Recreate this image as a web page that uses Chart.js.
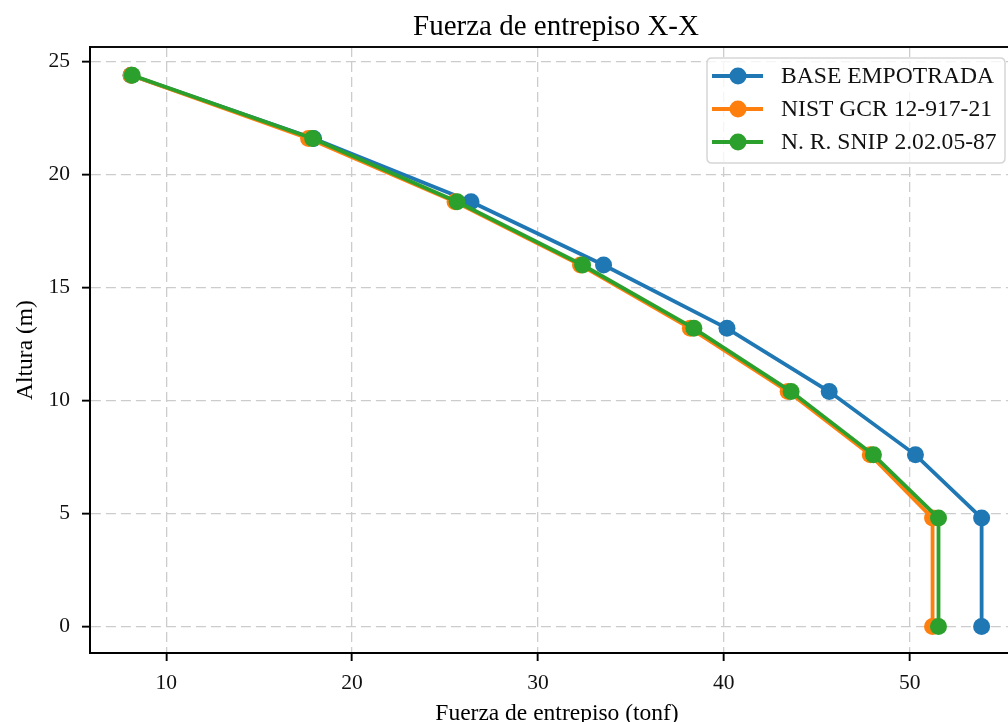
<!DOCTYPE html>
<html>
<head>
<meta charset="utf-8">
<script src="https://cdn.jsdelivr.net/npm/chart.js@4/dist/chart.umd.min.js"></script>
<style>
  html, body { margin: 0; padding: 0; background: #fff; overflow: hidden; width: 1008px; height: 722px; }
  #wrap { position: absolute; left: 0; top: 0; width: 1040px; height: 722px; }
  canvas { display: block; }
</style>
</head>
<body>
<div id="wrap"><canvas id="c" width="1040" height="722"></canvas></div>
<script>
// ---- Data ----
const chartTitle = 'Fuerza de entrepiso X-X';
const xAxisTitle = 'Fuerza de entrepiso (tonf)';
const yAxisTitle = 'Altura (m)';
const alturas = [0, 4.8, 7.6, 10.4, 13.2, 16.0, 18.8, 21.6, 24.4];
const baseEmpotrada = [53.87, 53.87, 50.31, 45.67, 40.17, 33.53, 26.40, 17.93, 8.11];
const nistGcr = [51.23, 51.23, 47.88, 43.46, 38.20, 32.29, 25.54, 17.66, 8.11];
const snip = [51.55, 51.55, 48.05, 43.62, 38.39, 32.40, 25.65, 17.88, 8.17];
const seriesNames = ['BASE EMPOTRADA', 'NIST GCR 12-917-21', 'N. R. SNIP 2.02.05-87'];
const seriesColors = ['#1f77b4', '#ff7f0e', '#2ca02c'];
const xTicks = [10, 20, 30, 40, 50];
const yTicks = [0, 5, 10, 15, 20, 25];

const FONT = "'Liberation Serif', 'Times New Roman', serif";
Chart.defaults.font.family = FONT;

function pts(xs) { return xs.map((x, i) => ({ x: x, y: alturas[i] })); }
const seriesValues = [baseEmpotrada, nistGcr, snip];

const LINE_W = 3.8;
const MARK_R = 8.5;

const datasets = seriesValues.map((vals, i) => ({
  label: seriesNames[i],
  data: pts(vals),
  showLine: true,
  borderColor: seriesColors[i],
  backgroundColor: seriesColors[i],
  borderWidth: LINE_W,
  pointRadius: MARK_R,
  pointHoverRadius: MARK_R,
  pointBorderWidth: 0,
  order: 3 - i,
  tension: 0
}));

const decor = {
  id: 'decor',
  afterDraw(chart) {
    const ctx = chart.ctx;
    const a = chart.chartArea;
    ctx.save();
    // spines
    ctx.strokeStyle = '#000';
    ctx.lineWidth = 1.9;
    ctx.strokeRect(a.left, a.top, a.right - a.left, a.bottom - a.top);
    // title
    ctx.fillStyle = '#000';
    ctx.textAlign = 'center';
    ctx.textBaseline = 'alphabetic';
    ctx.font = '29px ' + FONT;
    ctx.fillText(chartTitle, (a.left + a.right) / 2 - 1, 35);
    // x axis title
    ctx.font = '23.5px ' + FONT;
    ctx.fillText(xAxisTitle, (a.left + a.right) / 2, 720);
    // y axis title
    ctx.save();
    ctx.translate(32, (a.top + a.bottom) / 2);
    ctx.rotate(-Math.PI / 2);
    ctx.fillText(yAxisTitle, 0, 0);
    ctx.restore();
    // legend
    const lx = 707, ly = 58, lw = 298, lh = 105, r = 5;
    ctx.beginPath();
    ctx.moveTo(lx + r, ly);
    ctx.lineTo(lx + lw - r, ly);
    ctx.quadraticCurveTo(lx + lw, ly, lx + lw, ly + r);
    ctx.lineTo(lx + lw, ly + lh - r);
    ctx.quadraticCurveTo(lx + lw, ly + lh, lx + lw - r, ly + lh);
    ctx.lineTo(lx + r, ly + lh);
    ctx.quadraticCurveTo(lx, ly + lh, lx, ly + lh - r);
    ctx.lineTo(lx, ly + r);
    ctx.quadraticCurveTo(lx, ly, lx + r, ly);
    ctx.closePath();
    ctx.fillStyle = 'rgba(255,255,255,0.8)';
    ctx.fill();
    ctx.strokeStyle = '#d6d6d6';
    ctx.lineWidth = 1.5;
    ctx.stroke();
    const rows = [76, 109, 142];
    ctx.font = '23.6px ' + FONT;
    ctx.textAlign = 'left';
    ctx.textBaseline = 'middle';
    chart.data.datasets.forEach((ds, i) => {
      const y = rows[i];
      ctx.strokeStyle = ds.borderColor;
      ctx.lineWidth = LINE_W;
      ctx.beginPath();
      ctx.moveTo(712, y);
      ctx.lineTo(763, y);
      ctx.stroke();
      ctx.fillStyle = ds.backgroundColor;
      ctx.beginPath();
      ctx.arc(738, y, MARK_R, 0, Math.PI * 2);
      ctx.fill();
      ctx.fillStyle = '#111';
      ctx.fillText(ds.label, 781, y + 1);
    });
    ctx.restore();
  }
};

new Chart(document.getElementById('c'), {
  type: 'scatter',
  data: { datasets: datasets },
  options: {
    responsive: false,
    animation: false,
    events: [],
    layout: { padding: { left: 0, top: 47, right: 16, bottom: 0 } },
    plugins: { legend: { display: false }, title: { display: false }, tooltip: { enabled: false } },
    scales: {
      x: {
        type: 'linear',
        min: 5.9,
        max: 56.15,
        afterBuildTicks: (s) => { s.ticks = xTicks.map(v => ({ value: v })); },
        afterFit: (s) => { s.height = 69; },
        ticks: { color: '#111', font: { size: 21.5, family: FONT }, padding: 9, maxRotation: 0, autoSkip: false },
        grid: { color: '#cccccc', lineWidth: 1.3, tickLength: 8, tickColor: '#000', tickWidth: 1.9, tickBorderDash: [] },
        border: { display: true, color: '#000', width: 1.9, dash: [10, 5] }
      },
      y: {
        type: 'linear',
        min: -1.17,
        max: 25.65,
        afterBuildTicks: (s) => { s.ticks = yTicks.map(v => ({ value: v })); },
        afterFit: (s) => { s.width = 90; },
        ticks: { color: '#111', font: { size: 21.5, family: FONT }, padding: 12, autoSkip: false },
        grid: { color: '#cccccc', lineWidth: 1.3, tickLength: 8, tickColor: '#000', tickWidth: 1.9, tickBorderDash: [] },
        border: { display: true, color: '#000', width: 1.9, dash: [10, 5] }
      }
    }
  },
  plugins: [decor]
});
</script>
</body>
</html>
